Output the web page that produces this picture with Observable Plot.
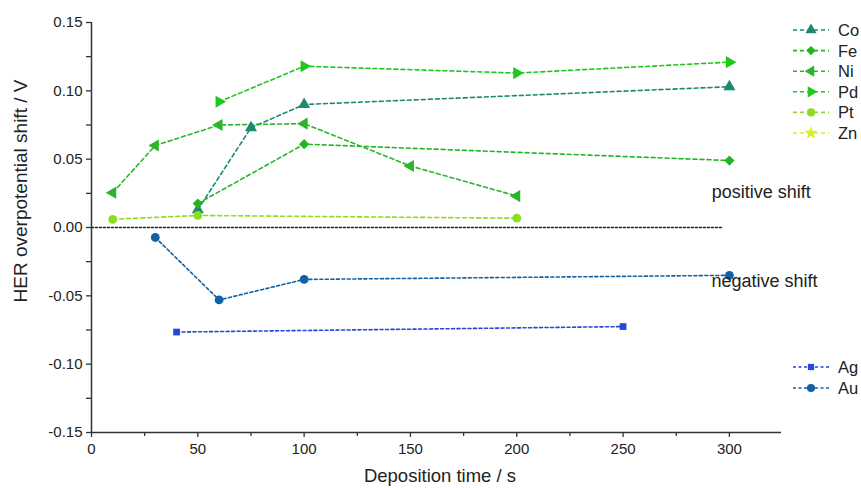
<!DOCTYPE html>
<html><head><meta charset="utf-8">
<script src="https://cdn.jsdelivr.net/npm/d3@7"></script>
<script src="https://cdn.jsdelivr.net/npm/@observablehq/plot@0.6"></script>
<style>
body{margin:0;background:#fff;}
#wrap{position:relative;width:861px;height:488px;font-family:"Liberation Sans",Arial,sans-serif;}
#wrap svg{position:absolute;left:0;top:0;}
</style>
</head><body><div id="wrap"></div>
<script>
// ---- data ----
const coTime = [50, 75, 100, 300];
const coShift = [0.013, 0.073, 0.090, 0.103];
const feTime = [50, 100, 300];
const feShift = [0.0175, 0.061, 0.049];
const niTime = [10, 30, 60, 100, 150, 200];
const niShift = [0.0255, 0.060, 0.075, 0.076, 0.045, 0.023];
const pdTime = [60, 100, 200, 300];
const pdShift = [0.092, 0.118, 0.113, 0.121];
const ptTime = [10, 50, 200];
const ptShift = [0.006, 0.0088, 0.0068];
const znTime = [];
const znShift = [];
const agTime = [40, 250];
const agShift = [-0.0765, -0.0725];
const auTime = [30, 60, 100, 300];
const auShift = [-0.0073, -0.053, -0.038, -0.035];

const xTicks = [0, 50, 100, 150, 200, 250, 300];
const xMinorTicks = [25, 75, 125, 175, 225, 275];
const yTicks = [-0.15, -0.10, -0.05, 0.00, 0.05, 0.10, 0.15];
const yMinorTicks = [-0.125, -0.075, -0.025, 0.025, 0.075, 0.125];
const baseline = [{t: 0, v: 0}, {t: 297, v: 0}];
const annotations = [
  {t: 315, v: 0.026, label: "positive shift"},
  {t: 316.5, v: -0.0395, label: "negative shift"}
];

// ---- custom symbols ----
const triRight = {draw(ctx, size) {
  const s = Math.sqrt(size / (3 * Math.sqrt(3)));
  ctx.moveTo(2 * s, 0); ctx.lineTo(-s, -Math.sqrt(3) * s); ctx.lineTo(-s, Math.sqrt(3) * s); ctx.closePath();
}};
const triLeft = {draw(ctx, size) {
  const s = Math.sqrt(size / (3 * Math.sqrt(3)));
  ctx.moveTo(-2 * s, 0); ctx.lineTo(s, -Math.sqrt(3) * s); ctx.lineTo(s, Math.sqrt(3) * s); ctx.closePath();
}};

const series = [
  {name: "Co", t: coTime, v: coShift, color: "#1c8a70", symbol: "triangle", dash: "4,3", r: 4.5},
  {name: "Fe", t: feTime, v: feShift, color: "#22b522", symbol: "diamond2", dash: "4,3", r: 4.6},
  {name: "Ni", t: niTime, v: niShift, color: "#2cb52c", symbol: triLeft, dash: "4,3", r: 4.5},
  {name: "Pd", t: pdTime, v: pdShift, color: "#1fc81f", symbol: triRight, dash: "4,3", r: 4.5},
  {name: "Pt", t: ptTime, v: ptShift, color: "#8edc1e", symbol: "circle", dash: "4,3", r: 4.4},
  {name: "Zn", t: znTime, v: znShift, color: "#dcef1e", symbol: "star", dash: "4,3", r: 4.6},
  {name: "Ag", t: agTime, v: agShift, color: "#2448d8", symbol: "square", dash: "3,2.5", r: 3.8},
  {name: "Au", t: auTime, v: auShift, color: "#1062a8", symbol: "circle", dash: "3,2.5", r: 4.4}
];

const rows = s => s.t.map((t, i) => ({t, v: s.v[i], name: s.name}));

const marks = [];
marks.push(Plot.line(baseline, {x: "t", y: "v", stroke: "#222", strokeWidth: 1.5, strokeDasharray: "2,2"}));
for (const s of series) {
  marks.push(Plot.line(rows(s), {x: "t", y: "v", stroke: s.color, strokeWidth: 1.6, strokeDasharray: s.dash}));
}
for (const s of series) {
  marks.push(Plot.dot(rows(s), {x: "t", y: "v", symbol: s.symbol, fill: s.color, stroke: "none", r: s.r}));
}
// axes
marks.push(Plot.ruleX([0], {stroke: "#333", strokeWidth: 1.5}));
marks.push(Plot.ruleY([-0.15], {stroke: "#333", strokeWidth: 1.5}));
marks.push(Plot.axisX(xTicks, {tickSize: 5, text: null, stroke: "#333", label: null, strokeWidth: 1.3}));
marks.push(Plot.axisX(xMinorTicks, {tickSize: 4, text: null, stroke: "#333", label: null, strokeWidth: 1.3}));
marks.push(Plot.axisY(yTicks, {tickSize: 5, text: null, stroke: "#333", label: null, strokeWidth: 1.3}));
marks.push(Plot.axisY(yMinorTicks, {tickSize: 5, text: null, stroke: "#333", label: null, strokeWidth: 1.3}));
// tick labels placed through the scales
marks.push(Plot.text(xTicks, {x: d => d, y: -0.15, text: d => String(d), dy: 17, fontSize: 15, fill: "#222", textAnchor: "middle"}));
marks.push(Plot.text(yTicks, {x: 0, y: d => d, text: d => d.toFixed(2), dx: -9, fontSize: 15, fill: "#222", textAnchor: "end"}));
marks.push(Plot.text(annotations, {x: "t", y: "v", text: "label", fontSize: 18, fill: "#222", textAnchor: "middle"}));

const chart = Plot.plot({
  width: 861, height: 488,
  marginLeft: 91, marginRight: 80, marginTop: 22, marginBottom: 56,
  style: {fontFamily: '"Liberation Sans", Arial, sans-serif', background: "white"},
  x: {domain: [0, 324.5]},
  y: {domain: [-0.15, 0.15]},
  marks
});
document.getElementById("wrap").appendChild(chart);

// ---- overlay: axis titles and legends ----
const ov = d3.select("#wrap").append("svg").attr("width", 861).attr("height", 488)
  .style("font-family", '"Liberation Sans", Arial, sans-serif');
ov.append("text").attr("transform", "translate(27,191) rotate(-90)").attr("text-anchor", "middle")
  .attr("font-size", 19).attr("fill", "#222").text("HER overpotential shift / V");
ov.append("text").attr("x", 440).attr("y", 482).attr("text-anchor", "middle")
  .attr("font-size", 18.5).attr("fill", "#222").text("Deposition time / s");

const legendTop = series.slice(0, 6).map((s, i) => ({s, y: 30 + i * 20.6}));
const legendBot = series.slice(6).map((s, i) => ({s, y: 367 + i * 21}));
const symPath = s => {
  const sym = typeof s.symbol === "string"
    ? {triangle: d3.symbolTriangle, diamond2: d3.symbolDiamond2, circle: d3.symbolCircle, star: d3.symbolStar, square: d3.symbolSquare}[s.symbol]
    : s.symbol;
  return d3.symbol(sym, Math.PI * s.r * s.r * 0.85)();
};
for (const {s, y} of [...legendTop, ...legendBot]) {
  const g = ov.append("g");
  g.append("line").attr("x1", 793).attr("x2", 829).attr("y1", y).attr("y2", y)
    .attr("stroke", s.color).attr("stroke-width", 1.6).attr("stroke-dasharray", s.dash);
  g.append("path").attr("d", symPath(s)).attr("transform", `translate(811,${y})`).attr("fill", s.color);
  g.append("text").attr("x", 838).attr("y", y).attr("dy", "0.36em").attr("font-size", 16.5)
    .attr("fill", "#222").text(s.name);
}
</script>
</body></html>
